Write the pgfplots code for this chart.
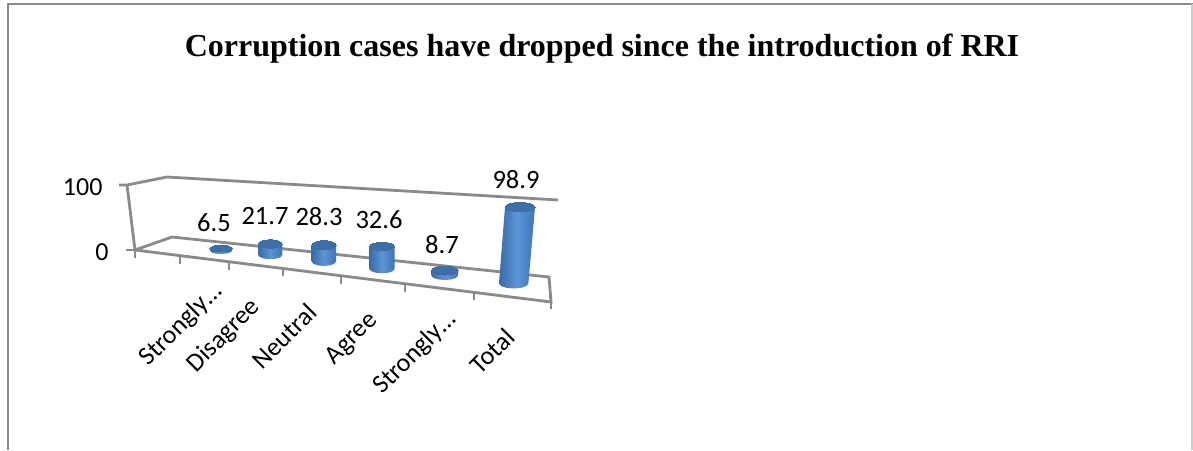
\documentclass[border=0pt]{standalone}
\usepackage{pgfplots}
\usepackage{pgfplotstable}
\usepackage{fontspec}
\pgfplotsset{compat=1.18}
\setmainfont{Carlito}
\newfontfamily\titlefont{Liberation Serif}
\definecolor{gridg}{HTML}{8A8A8A}
\definecolor{barL}{HTML}{3A6CA6}
\definecolor{barM}{HTML}{5C94D6}
\definecolor{barR}{HTML}{3F75B5}
\definecolor{barT}{HTML}{3E6EA6}
% value labels: position of the label, value
\pgfplotstableread{
px py value
214 223 6.5
265 216 21.7
319 217 28.3
379 220 32.6
442 245 8.7
516 180 98.9
}\valuelabels
\newcommand{\tickline}[2]{\addplot[gridg, line width=#1] coordinates {#2};}
\newcommand{\body}[2][]{\addplot[draw=none, left color=barL, right color=barR, middle color=barM, #1] coordinates {#2} --cycle;}
\newcommand{\capmark}[4]{\addplot[only marks, mark=*, mark size=#3pt, mark options={draw=barT, fill=barT, line width=0pt, yscale=#4}] coordinates {(#1,#2)};}
\begin{document}
\begin{tikzpicture}
\begin{axis}[
  scale only axis, width=1193pt, height=450pt,
  xmin=0, xmax=1193, ymin=0, ymax=450, y dir=reverse,
  axis lines=none, clip=false,
]
\path[use as bounding box] (axis cs:0,0) rectangle (axis cs:1193,450);
% frame
\addplot[gridg, line width=2.5pt] coordinates {(8,450) (8,4) (1193,4)};
\addplot[black!20, line width=1.5pt] coordinates {(1192,4) (1192,450)};
% walls and floor
\tickline{2.8pt}{(119,185) (127,185) (167,177) (558,200)}
\tickline{2.8pt}{(127,185) (135,250) (172,237) (549,277) (551,302) (135,250)}
% ticks
\tickline{2.8pt}{(126,250) (135,250)}
\tickline{2pt}{(135,250) (135,258)}
\tickline{2pt}{(180,256) (180,264)}
\tickline{2pt}{(229,262) (229,270)}
\tickline{2pt}{(283,268) (283,276)}
\tickline{2pt}{(341,276) (341,284)}
\tickline{2pt}{(405,284) (405,292)}
\tickline{2pt}{(474,293) (474,300)}
\tickline{2pt}{(551,302) (551,309)}
% cylinders
\body{(209.8,248.5)(209.8,250.5)(211.3,252.25)(215.4,253.5)(221,254)(226.6,253.5)(230.7,252.25)(232.2,250.5)(232.2,248.5)}
\capmark{221}{248.5}{11.2}{0.31}
\body{(258.3,244)(258.3,255)(259.9,257.1)(264.3,258.6)(270.3,259.2)(276.3,258.6)(280.7,257.1)(282.3,255)(282.3,244)}
\capmark{270.3}{244}{12}{0.35}
\body{(311.6,245.3)(311.6,261.3)(313.2,263.65)(317.7,265.37)(323.8,266)(329.9,265.37)(334.4,263.65)(336,261.3)(336,245.3)}
\capmark{323.8}{245.3}{12.2}{0.38}
\body{(369.3,246.3)(369.3,268.8)(371,271.05)(375.65,272.7)(382,273.3)(388.35,272.7)(393,271.05)(394.7,268.8)(394.7,246.3)}
\capmark{382}{246.3}{12.7}{0.32}
\body{(431.4,270.5)(431.4,275.5)(433.2,277.75)(438.05,279.4)(444.7,280)(451.35,279.4)(456.2,277.75)(458,275.5)(458,270.5)}
\capmark{444.7}{270.5}{13.3}{0.34}
\body{(505,207)(499,283.5)(501,286)(506.35,287.83)(513.7,288.5)(521.05,287.83)(526.4,286)(528.4,283.5)(535,207)}
\capmark{520}{207}{15}{0.3}
% value labels
\addplot[only marks, mark=none, point meta=explicit symbolic,
  nodes near coords, nodes near coords style={anchor=center, font=\fontsize{26.5}{26.5}\selectfont, inner sep=0pt}]
  table[x=px, y=py, meta=value] {\valuelabels};
% texts
\node[font=\titlefont\bfseries\fontsize{32}{32}\selectfont] at (axis cs:602,49) {Corruption cases have dropped since the introduction of RRI};
\node[font=\fontsize{26}{26}\selectfont, anchor=east] at (axis cs:106,187) {100};
\node[font=\fontsize{26}{26}\selectfont, anchor=east] at (axis cs:112,252) {0};
\node[font=\fontsize{26}{26}\selectfont, rotate=45] at (axis cs:181,325) {Strongly\ldots};
\node[font=\fontsize{26}{26}\selectfont, rotate=45] at (axis cs:224,336) {Disagree};
\node[font=\fontsize{26}{26}\selectfont, rotate=45] at (axis cs:284,336) {Neutral};
\node[font=\fontsize{26}{26}\selectfont, rotate=45] at (axis cs:352,339) {Agree};
\node[font=\fontsize{26}{26}\selectfont, rotate=45] at (axis cs:415,353) {Strongly\ldots};
\node[font=\fontsize{26}{26}\selectfont, rotate=45] at (axis cs:492,351) {Total};
\end{axis}
\end{tikzpicture}
\end{document}
